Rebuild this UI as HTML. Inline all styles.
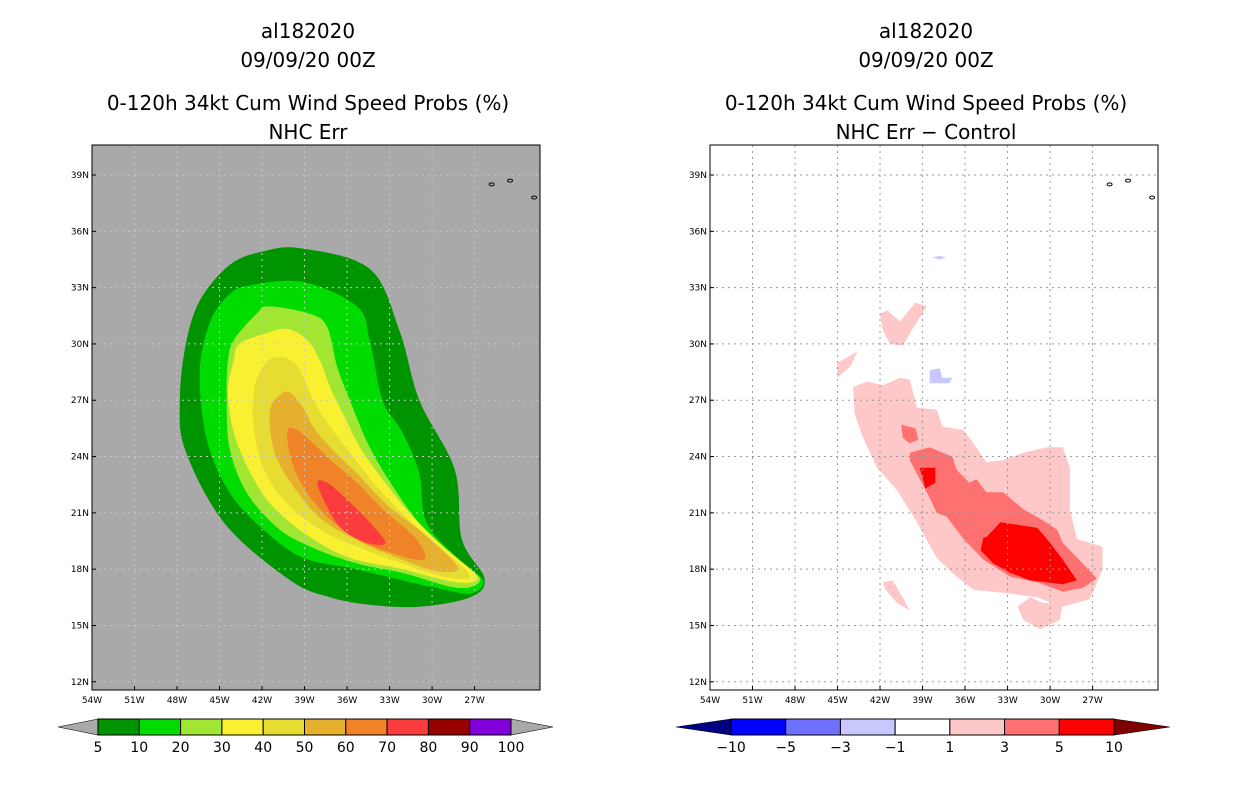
<!DOCTYPE html>
<html><head><meta charset="utf-8"><style>
body{margin:0;background:#fff;}
svg text{font-family:"DejaVu Sans","Liberation Sans",sans-serif;}
</style></head><body>
<svg id="chart" width="1236" height="800" viewBox="0 0 1236 800" xmlns="http://www.w3.org/2000/svg">
<g id="root"></g>
</svg>
<script>
// ---- data ----
const latTicks = [39,36,33,30,27,24,21,18,15,12];
const lonTicks = [54,51,48,45,42,39,36,33,30,27];
const leftLevels = ['5','10','20','30','40','50','60','70','80','90','100'];
const leftColors = ['#009400','#00dc00','#a0e632','#faf032','#e6dc32','#e6af2d','#f08228','#fa3c3c','#960000','#8200dc'];
const rightLevels = ['-10','-5','-3','-1','1','3','5','10'];
const rightColors = ['#0000ff','#7070ff','#c8c8ff','#ffffff','#ffc8c8','#ff7070','#ff0000'];
// contours in [lonW, latN]
const p05 = [[39.3,35.1],[34.4,34.0],[32.3,30.7],[30.9,27.0],[28.4,23.3],[27.9,19.6],[26.3,17.5],[27.3,16.5],[30.9,16.0],[34.4,16.1],[37.2,16.5],[40.0,17.4],[44.6,20.4],[47.4,24.3],[47.8,27.0],[47.4,29.9],[46.4,32.3],[44.3,34.2],[42.1,34.9]];
const p10 = [[43.0,33.1],[39.1,33.3],[35.3,32.0],[34.4,30.2],[33.5,27.0],[32.1,25.3],[30.9,23.1],[30.4,20.5],[28.2,18.6],[26.4,17.4],[27.3,16.7],[29.7,17.0],[32.1,17.4],[35.3,18.0],[39.1,18.6],[41.9,20.1],[44.3,22.1],[45.9,24.9],[46.4,28.5],[45.7,31.1],[44.5,32.5]];
const p20 = [[44.0,30.2],[42.4,31.6],[41.5,32.0],[38.6,31.6],[37.4,30.9],[36.7,28.8],[35.8,27.0],[34.4,24.5],[32.5,22.1],[30.6,20.2],[27.8,18.3],[26.6,17.4],[28.2,17.0],[32.1,17.8],[35.3,18.3],[38.6,19.2],[40.9,20.2],[43.1,22.1],[44.3,24.5],[44.5,27.4],[44.4,29.1]];
const p30 = [[43.6,30.0],[41.6,30.6],[40.2,30.8],[38.8,30.2],[37.9,29.1],[37.2,27.7],[36.3,26.3],[35.1,24.5],[33.5,22.8],[31.6,21.0],[29.2,19.2],[26.8,17.6],[28.2,17.3],[32.1,18.0],[35.8,18.6],[38.6,19.7],[41.2,21.3],[42.8,23.1],[44.0,25.3],[44.4,27.5],[44.0,29.1]];
const p40 = [[42.4,28.1],[41.6,29.1],[40.5,29.3],[39.5,28.8],[38.8,27.7],[38.1,26.6],[37.2,25.6],[35.8,24.2],[33.9,22.4],[31.6,20.6],[29.2,19.0],[27.3,17.6],[29.2,17.6],[32.1,18.3],[35.3,19.2],[38.1,20.2],[40.5,21.7],[41.9,23.4],[42.6,25.6],[42.6,27.2]];
const p50 = [[41.4,26.6],[40.7,27.3],[40.0,27.4],[39.1,26.6],[38.4,25.6],[37.2,24.5],[35.3,23.1],[33.0,21.3],[30.6,19.9],[28.2,18.1],[29.7,17.9],[32.1,18.5],[34.9,19.4],[37.7,20.6],[39.5,22.1],[40.9,23.8],[41.4,25.3]];
const p60 = [[40.2,25.4],[39.5,25.4],[38.4,24.7],[37.0,23.7],[35.3,22.6],[33.5,21.2],[31.1,19.6],[30.6,18.5],[33.0,18.9],[35.3,19.6],[37.4,20.8],[39.1,22.4],[40.0,24.0]];
const p70 = [[38.1,22.6],[37.4,22.6],[36.0,21.7],[34.4,20.5],[33.3,19.4],[34.6,19.4],[36.3,20.1],[37.4,21.3]];
const d1 = [[43.9,27.7],[42.9,28.0],[41.8,27.8],[40.6,28.2],[39.9,28.1],[39.4,26.6],[38.0,26.5],[37.6,25.6],[36.1,25.4],[35.4,24.7],[34.5,23.7],[33.3,23.8],[31.9,24.2],[30.2,24.5],[29.1,24.5],[28.6,23.4],[28.6,21.2],[28.1,19.6],[26.3,19.2],[26.3,18.0],[27.2,16.4],[29.1,16.0],[30.9,16.5],[32.8,16.7],[35.4,16.9],[36.6,17.6],[38.0,18.6],[39.4,20.5],[40.8,22.2],[42.2,23.4],[43.2,25.0],[43.8,26.3]];
const d1b = [[42.0,31.6],[41.5,31.8],[40.6,31.2],[39.5,32.2],[38.7,32.0],[39.7,30.8],[40.4,29.9],[41.3,30.0],[41.8,30.7]];
const d1c = [[45.0,29.0],[43.6,29.6],[44.1,28.8],[45.0,28.2]];
const d1d = [[41.8,17.3],[41.1,17.4],[40.4,16.5],[39.9,15.8],[40.8,16.2],[41.6,16.9]];
const d1e = [[32.3,16.0],[31.4,16.5],[30.5,16.2],[29.1,16.2],[29.3,15.3],[30.7,14.8],[31.9,15.3]];
const d3 = [[39.9,24.2],[38.5,24.5],[36.9,24.0],[36.6,23.3],[35.7,22.6],[35.2,22.8],[34.5,22.1],[33.3,22.1],[31.9,21.2],[30.5,20.6],[29.5,20.1],[29.1,19.4],[27.7,18.3],[26.7,17.5],[27.7,17.0],[29.1,16.8],[30.9,17.3],[32.8,17.6],[34.7,18.5],[36.1,19.6],[37.3,20.8],[38.0,21.0],[38.5,21.8],[39.2,22.8],[39.9,23.8]];
const d3b = [[40.5,25.7],[39.5,25.5],[39.3,24.9],[39.9,24.7],[40.4,25.0]];
const d5 = [[34.5,19.7],[33.5,20.5],[30.9,20.2],[30.0,19.4],[29.1,18.5],[28.1,17.4],[29.1,17.2],[31.4,17.4],[32.8,17.8],[34.0,18.3],[34.9,19.0],[34.7,19.7]];
const d5b = [[39.2,23.4],[38.1,23.4],[38.1,22.6],[38.8,22.3]];
const dn1 = [[38.5,28.6],[37.8,28.7],[37.6,28.2],[36.9,28.2],[37.1,27.9],[38.5,27.9]];
const dn1b = [[38.3,34.6],[37.8,34.7],[37.3,34.6],[37.8,34.5]];
const islands = [[25.8,38.5],[24.5,38.7],[22.8,37.8]];

// ---- axes ----
const PX_DEG_X = 14.17, PX_DEG_Y = 18.77;
function xS(lon, x0){ return x0 + (54 - lon) * PX_DEG_X; }
function yS(lat){ return 175 + (39 - lat) * PX_DEG_Y; }

const NS = 'http://www.w3.org/2000/svg';
const root = document.getElementById('root');
function mk(tag, attrs, parent){
  const e = document.createElementNS(NS, tag);
  for (const k in attrs) e.setAttribute(k, attrs[k]);
  (parent || root).appendChild(e);
  return e;
}
function poly(pts, x0, fill, name, g){
  const e = mk('polygon', {points: pts.map(p => xS(p[0],x0).toFixed(1)+','+yS(p[1]).toFixed(1)).join(' '), fill: fill}, g);
  
  
}
function smooth(pts, x0, fill, name, g){
  const P = pts.map(p => [xS(p[0],x0), yS(p[1])]);
  const n = P.length;
  let d = 'M' + P[0][0].toFixed(1) + ',' + P[0][1].toFixed(1);
  for (let i = 0; i < n; i++){
    const p0 = P[(i-1+n)%n], p1 = P[i], p2 = P[(i+1)%n], p3 = P[(i+2)%n];
    const c1 = [p1[0]+(p2[0]-p0[0])/6, p1[1]+(p2[1]-p0[1])/6];
    const c2 = [p2[0]-(p3[0]-p1[0])/6, p2[1]-(p3[1]-p1[1])/6];
    d += ' C' + c1.map(v=>v.toFixed(1)).join(',') + ' ' + c2.map(v=>v.toFixed(1)).join(',') + ' ' + p2.map(v=>v.toFixed(1)).join(',');
  }
  const e = mk('path', {d: d + 'Z', fill: fill}, g);
  
  
}
function txt(x, y, s, size, anchor, name, g){
  const t = mk('text', {x:x, y:y, 'font-size':size, 'text-anchor':anchor||'middle', fill:'#000'}, g);
  t.textContent = s;
  
  
  return t;
}

function panel(x0, bg, titleLine, name){
  const g = mk('g', {});
  
  
  const cx = x0 + 216;
  txt(cx, 38, 'al182020', 20, 'middle', 'storm-id-title', g);
  txt(cx, 67, '09/09/20 00Z', 20, 'middle', 'date-title', g);
  txt(cx, 110, '0-120h 34kt Cum Wind Speed Probs (%)', 20, 'middle', 'product-title', g);
  txt(cx, 139, titleLine, 20, 'middle', 'subtitle', g);
  const bgR = mk('rect', {x:x0, y:145, width:448, height:545, fill:bg}, g);
  
  
  return g;
}
function gridAndAxes(g, x0, gridColor){
  latTicks.forEach(lat => {
    const y = yS(lat);
    const l = mk('line', {x1:x0, x2:x0+448, y1:y, y2:y, stroke:gridColor, 'stroke-width':1, 'stroke-dasharray':'2,4'}, g);
    
    
    const tk = mk('line', {x1:x0, x2:x0+4, y1:y, y2:y, stroke:'#000'}, g);
    
    
    txt(x0-3, y+3, lat+'N', 9, 'end', 'lat-tick-label', g);
  });
  lonTicks.forEach(lon => {
    const x = xS(lon, x0);
    if (lon !== 54) {
      const l = mk('line', {x1:x, x2:x, y1:145, y2:690, stroke:gridColor, 'stroke-width':1, 'stroke-dasharray':'2,4'}, g);
      
      
    }
    const tk = mk('line', {x1:x, x2:x, y1:686, y2:690, stroke:'#000'}, g);
    
    
    txt(x, 703, lon+'W', 9, 'middle', 'lon-tick-label', g);
  });
  islands.forEach(p => {
    const e = mk('ellipse', {cx:xS(p[0],x0), cy:yS(p[1]), rx:2.5, ry:1.5, fill:'none', stroke:'#000', 'stroke-width':1}, g);
    
    
  });
  const fr = mk('rect', {x:x0, y:145, width:448, height:545, fill:'none', stroke:'#000', 'stroke-width':1}, g);
  
  
}
function colorbar(x1, x2, tipL, tipR, colors, labels, lowTip, highTip, name){
  const g = mk('g', {});
  
  
  const y1 = 719, y2 = 735, ym = 727;
  const tl = mk('polygon', {points:`${x1},${y1} ${tipL},${ym} ${x1},${y2}`, fill:lowTip, stroke:'#000', 'stroke-width':0.6}, g);
  
  
  const tr = mk('polygon', {points:`${x2},${y1} ${tipR},${ym} ${x2},${y2}`, fill:highTip, stroke:'#000', 'stroke-width':0.6}, g);
  
  
  const w = (x2 - x1) / colors.length;
  colors.forEach((c, i) => {
    const r = mk('rect', {x:x1+i*w, y:y1, width:w, height:y2-y1, fill:c, stroke:'#000', 'stroke-width':1}, g);
    
    
  });
  labels.forEach((s, i) => {
    txt(x1 + i*w, 752, s.replace('-', '\u2212'), 14, 'middle', 'colorbar-label', g);
  });
}

// left panel
const LX = 92, RX = 710;
const gl = panel(LX, '#a9a9a9', 'NHC Err', 'left-panel-nhc-err');
[p05,p10,p20,p30,p40,p50,p60,p70].forEach((p, i) => smooth(p, LX, leftColors[i], 'contour-'+leftLevels[i]+'pct', gl));
gridAndAxes(gl, LX, '#c8c8c8');
colorbar(98, 511, 58, 553, leftColors, leftLevels, '#a9a9a9', '#a9a9a9', 'left-colorbar');

// right panel
const gr = panel(RX, '#ffffff', 'NHC Err \u2212 Control', 'right-panel-difference');
[d1, d1b, d1c, d1d, d1e].forEach(p => poly(p, RX, rightColors[4], 'diff-1-to-3', gr));
[d3, d3b].forEach(p => poly(p, RX, rightColors[5], 'diff-3-to-5', gr));
[d5, d5b].forEach(p => poly(p, RX, rightColors[6], 'diff-5-to-10', gr));
[dn1, dn1b].forEach(p => poly(p, RX, rightColors[2], 'diff-minus3-to-minus1', gr));
gridAndAxes(gr, RX, '#999999');
colorbar(731, 1114, 676, 1170, rightColors, rightLevels, '#000080', '#800000', 'right-colorbar');
</script>
</body></html>
